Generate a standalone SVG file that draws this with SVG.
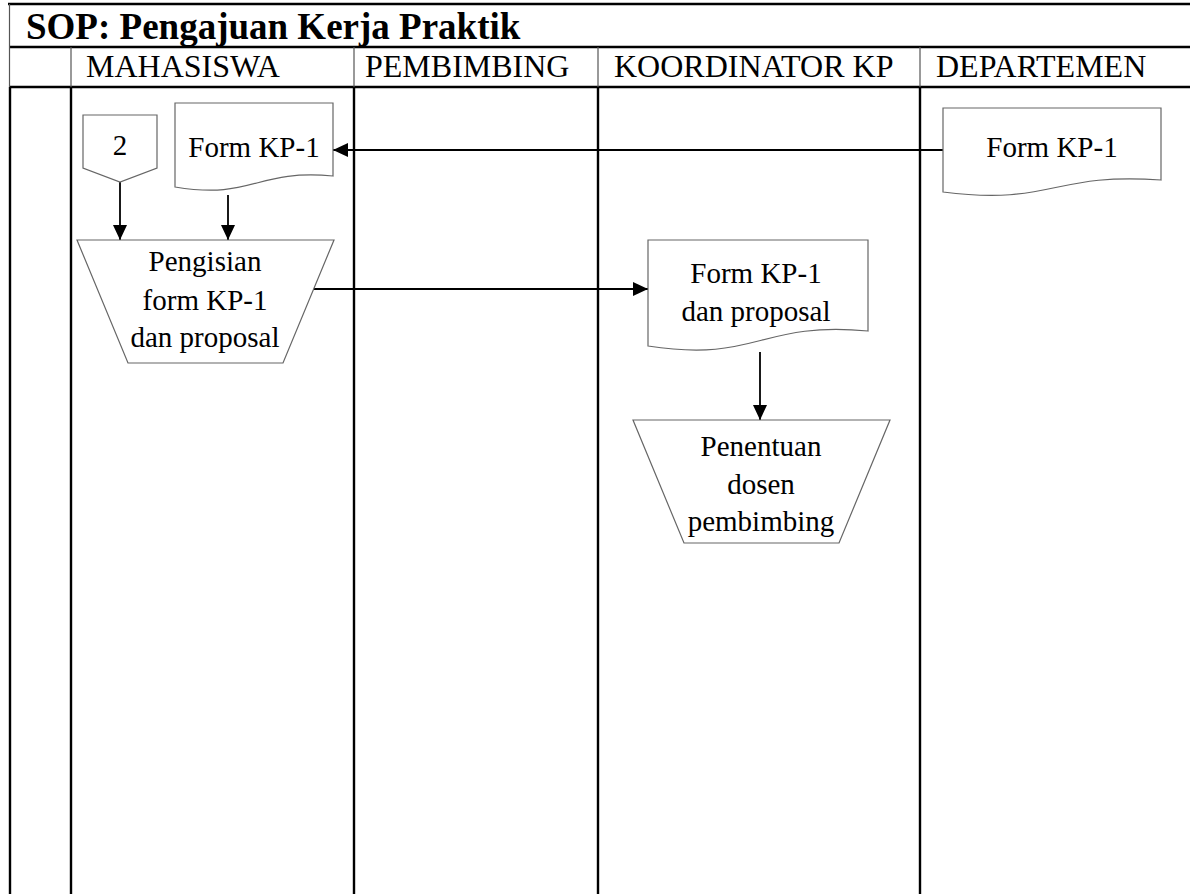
<svg xmlns="http://www.w3.org/2000/svg" width="1190" height="894" viewBox="0 0 1190 894">
<style>
.bg{fill:#ffffff}
.frame{stroke:#000;stroke-width:2.4;fill:none}
.thin{stroke:#555;stroke-width:1.2;fill:none}
.shape{fill:#fff;stroke:#666;stroke-width:1.2}
.conn{stroke:#000;stroke-width:1.8;fill:none}
.title{font-family:"Liberation Serif","Times New Roman",serif;font-weight:bold;font-size:37px;fill:#000}
.head{font-family:"Liberation Serif","Times New Roman",serif;font-size:32px;fill:#000}
.lbl{font-family:"Liberation Serif","Times New Roman",serif;font-size:29px;fill:#000;text-anchor:middle}
</style>
<defs>
<marker id="arr" markerUnits="userSpaceOnUse" markerWidth="15" markerHeight="14" viewBox="0 0 15 14" refX="15" refY="7" orient="auto">
<path d="M0,0 L15,7 L0,14 Z" fill="#000"/>
</marker>
</defs>
<rect class="bg" x="0" y="0" width="1190" height="894"/>
<g id="frame">
<line class="frame" x1="8" y1="4" x2="1190" y2="4"/>
<line class="frame" x1="9" y1="47" x2="1190" y2="47"/>
<line class="frame" x1="9" y1="87" x2="1190" y2="87"/>
<line class="thin" x1="9.5" y1="4" x2="9.5" y2="87"/>
<line class="frame" x1="10" y1="87" x2="10" y2="894"/>
<line class="thin" x1="71" y1="47" x2="71" y2="87"/>
<line class="frame" x1="71" y1="87" x2="71" y2="894"/>
<line class="thin" x1="354" y1="47" x2="354" y2="87"/>
<line class="frame" x1="354" y1="87" x2="354" y2="894"/>
<line class="thin" x1="598" y1="47" x2="598" y2="87"/>
<line class="frame" x1="598" y1="87" x2="598" y2="894"/>
<line class="thin" x1="920" y1="47" x2="920" y2="87"/>
<line class="frame" x1="920" y1="87" x2="920" y2="894"/>
<text class="title" x="26" y="39">SOP: Pengajuan Kerja Praktik</text>
<text class="head" x="86" y="77">MAHASISWA</text>
<text class="head" x="365" y="77">PEMBIMBING</text>
<text class="head" x="614" y="77">KOORDINATOR KP</text>
<text class="head" x="936" y="77">DEPARTEMEN</text>
</g>
<g id="connectors">
<line class="conn" x1="943" y1="150" x2="333" y2="150" marker-end="url(#arr)"/>
<line class="conn" x1="120" y1="182" x2="120" y2="240" marker-end="url(#arr)"/>
<line class="conn" x1="228" y1="195" x2="228" y2="240" marker-end="url(#arr)"/>
<line class="conn" x1="312" y1="289" x2="648" y2="289" marker-end="url(#arr)"/>
<line class="conn" x1="760" y1="352" x2="760" y2="420" marker-end="url(#arr)"/>
</g>
<g id="node-offpage-2">
<path class="shape" d="M83,115 H157 V168 L120,182 L83,168 Z"/>
<text class="lbl" x="120" y="155">2</text>
</g>
<g id="node-form-kp1-mahasiswa">
<path class="shape" d="M175,103 H333 V176 C254,169 254,200 175,187 Z"/>
<text class="lbl" x="254" y="157">Form KP-1</text>
</g>
<g id="node-form-kp1-departemen">
<path class="shape" d="M943,108 H1161 V180 C1052,172 1052,206 943,192 Z"/>
<text class="lbl" x="1052" y="157">Form KP-1</text>
</g>
<g id="node-pengisian">
<path class="shape" d="M77,240 H334 L283,363 H128 Z"/>
<text class="lbl" x="205" y="271">Pengisian</text>
<text class="lbl" x="205" y="310">form KP-1</text>
<text class="lbl" x="205" y="347">dan proposal</text>
</g>
<g id="node-form-kp1-proposal">
<path class="shape" d="M648,240 H868 V331 C758,321 758,363 648,346 Z"/>
<text class="lbl" x="756" y="283">Form KP-1</text>
<text class="lbl" x="756" y="321">dan proposal</text>
</g>
<g id="node-penentuan">
<path class="shape" d="M633,420 H890 L839,543 H684 Z"/>
<text class="lbl" x="761" y="456">Penentuan</text>
<text class="lbl" x="761" y="494">dosen</text>
<text class="lbl" x="761" y="531">pembimbing</text>
</g>
</svg>
